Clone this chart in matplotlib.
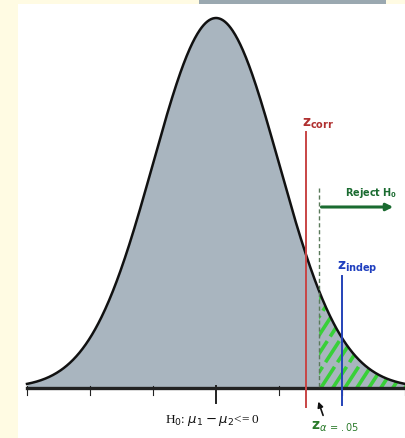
import numpy as np
import matplotlib
matplotlib.use("Agg")
import matplotlib.pyplot as plt
from matplotlib.patches import Rectangle

# critical values (in standard-deviation units)
z_corr = 1.43
z_alpha = 1.63
z_indep = 2.0
tick_positions = [-3, -2, -1, 0, 1, 2, 3]
mean_label = r"H$_0$: $\mu_1 - \mu_2$<= 0"

plt.rcParams["mathtext.fontset"] = "dejavusans"

W, H = 405, 438
fig = plt.figure(figsize=(W / 100, H / 100), dpi=100, facecolor="#fffbe3")

ax = fig.add_axes([0, 0, 1, 1])
ax.set_facecolor("none")
ax.axis("off")
# white panel and top bar (figure coords)
ax.add_patch(Rectangle((18 / W, 0), 1 - 18 / W, 1 - 4 / H, transform=fig.transFigure,
                       facecolor="white", edgecolor="none", zorder=0))
ax.add_patch(Rectangle((199 / W, 1 - 4 / H), (386 - 199) / W, 4 / H, transform=fig.transFigure,
                       facecolor="#9aa8b0", edgecolor="none", zorder=0))

px = 63.0  # pixels per sigma
ax.set_xlim(-3.0 - 27 / px, 3.0)
ax.set_ylim(-(438 - 388) / 370, 1 + 18 / 370)

def py(p):
    return (388 - p) / 370

z = np.linspace(-3.0, 3.0, 600)
f = np.exp(-z ** 2 / 2)
ax.fill_between(z, 0, f, color="#a9b5bf", lw=0, zorder=1)

# hatched rejection region: stripes clipped to the tail area
zt = z[z >= z_alpha]
tail = ax.fill_between(zt, 0, np.exp(-zt ** 2 / 2), facecolor="none", lw=0, zorder=2)
clip_path = tail.get_paths()[0]
slope = np.tan(np.radians(57)) * (px / 370)  # data-units slope for ~57 deg on screen
spacing = 12 / px
for x0 in np.arange(z_alpha - 1.3, 3.2, spacing):
    xs = np.array([x0, x0 + 0.5 / slope])
    ys = np.array([0, 0.5])
    ln, = ax.plot(xs, ys, color="#38d038", lw=2.6, ls=(0, (7, 1.5)), zorder=2,
                  solid_capstyle="butt")
    ln.set_clip_path(clip_path, ax.transData)

ax.plot(z, f, color="#111111", lw=1.8, zorder=4)
ax.plot([-3.0, 3.0], [0, 0], color="#222222", lw=2.4, zorder=5)

for t in tick_positions:
    low = py(403) if t == 0 else py(395)
    ax.plot([t, t], [py(386), low], color="#222222", lw=1.4 if t == 0 else 0.8, zorder=5)

# vertical lines
ax.plot([z_corr, z_corr], [py(132), py(407)], color="#c84545", lw=1.4, zorder=6)
ax.plot([z_alpha, z_alpha], [py(188), 0], color="#5a7a5a", lw=1.0, ls=(0, (3, 2)), zorder=6)
ax.plot([z_indep, z_indep], [py(276), py(405)], color="#2442b8", lw=1.4, zorder=6)

# reject arrow
ax.annotate("", xy=((396 - 216) / px, py(207)), xytext=(z_alpha, py(207)),
            arrowprops=dict(arrowstyle="-|>", color="#1a6b30", lw=2.2, mutation_scale=10), zorder=7)
ax.text((345 - 216) / px, py(193), r"$\mathbf{Reject\ H}_{\mathbf{0}}$", color="#1a6b30",
        fontsize=7, ha="left", va="center", zorder=7)

ax.text((302 - 216) / px, py(124), r"$\mathbf{z}_{\mathbf{corr}}$", color="#b03030",
        fontsize=10, ha="left", va="center", zorder=7)
ax.text((337 - 216) / px, py(268), r"$\mathbf{z}_{\mathbf{indep}}$", color="#1f3fbf",
        fontsize=10, ha="left", va="center", zorder=7)

ax.text((311 - 216) / px, py(427), r"$\mathbf{z}_{\alpha\,=\,.05}$", color="#2a7a2a",
        fontsize=10, ha="left", va="center", zorder=7)
ax.annotate("", xy=(z_alpha - 0.02, py(399)), xytext=((324 - 216) / px, py(418)),
            arrowprops=dict(arrowstyle="-|>", color="#111111", lw=1.2, mutation_scale=8), zorder=7)

ax.text(0 - 4 / px, py(420), mean_label, color="#111111", fontsize=9.5,
        family="Liberation Serif", ha="center", va="center", zorder=7)

fig.savefig("out.png", dpi=100, facecolor=fig.get_facecolor())
